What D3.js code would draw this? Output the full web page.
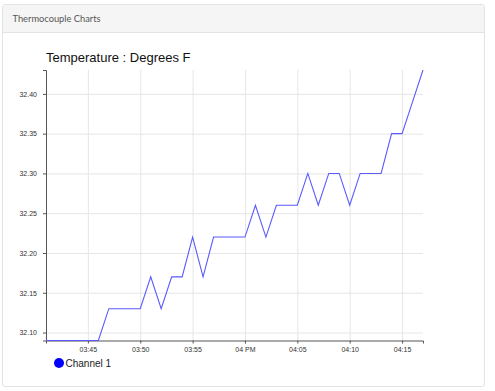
<!DOCTYPE html>
<html>
<head>
<meta charset="utf-8">
<script src="https://cdn.jsdelivr.net/npm/d3@7"></script>
<style>
  html, body { margin: 0; padding: 0; background: #fff; }
  body { width: 495px; height: 391px; overflow: hidden; position: relative; }
  .card { position: absolute; left: 2px; top: 4px; width: 481px; height: 381px;
          border: 1px solid #e3e3e3; border-radius: 3px; background: #fff; }
  .card-header { height: 27px; background: #f5f5f5; border-bottom: 1px solid #e3e3e3;
          font-family: Lato, "Open Sans", sans-serif; font-size: 9.3px; color: #555;
          line-height: 28px; padding-left: 9.5px; }
  svg { position: absolute; left: 0; top: 0; }
  .tick text { font-family: "Liberation Sans", Arial, sans-serif; font-size: 7px; fill: #333; }
  .grid line { stroke: #e6e6e6; }
  .grid path { display: none; }
</style>
</head>
<body>
<div class="card"><div class="card-header">Thermocouple Charts</div></div>
<svg id="chart" width="495" height="391"></svg>
<script>
const times = ["15:41","15:42","15:43","15:44","15:45","15:46","15:47","15:48","15:49","15:50",
               "15:51","15:52","15:53","15:54","15:55","15:56","15:57","15:58","15:59","16:00",
               "16:01","16:02","16:03","16:04","16:05","16:06","16:07","16:08","16:09","16:10",
               "16:11","16:12","16:13","16:14","16:15","16:16","16:17"];
const channel1 = [32.09,32.09,32.09,32.09,32.09,32.09,32.13,32.13,32.13,32.13,
                  32.17,32.13,32.17,32.17,32.22,32.17,32.22,32.22,32.22,32.22,
                  32.26,32.22,32.26,32.26,32.26,32.30,32.26,32.30,32.30,32.26,
                  32.30,32.30,32.30,32.35,32.35,32.39,32.43];
const yTicks = [32.10,32.15,32.20,32.25,32.30,32.35,32.40];
const title = "Temperature : Degrees F";
const seriesName = "Channel 1";

(function () {
const parse = s => { const [h, m] = s.split(":").map(Number); return new Date(2020, 0, 1, h, m); };
const data = times.map((t, i) => ({ t: parse(t), v: channel1[i] }));

const mLeft = 46, mRight = 423, mTop = 70, mBottom = 340.5;
const svg = d3.select("#chart");

const x = d3.scaleTime().domain(d3.extent(data, d => d.t)).range([mLeft, mRight]);
const y = d3.scaleLinear().domain(d3.extent(data, d => d.v)).range([mBottom, mTop]);

// grid
svg.append("g").attr("class", "grid")
  .attr("transform", `translate(0,${mBottom})`)
  .call(d3.axisBottom(x).ticks(d3.timeMinute.every(5)).tickSize(-(mBottom - mTop)).tickFormat(""));
svg.append("g").attr("class", "grid")
  .attr("transform", `translate(${mLeft},0)`)
  .call(d3.axisLeft(y).tickValues(yTicks).tickSize(-(mRight - mLeft)).tickFormat(""));

// axes
const xAxis = svg.append("g")
  .attr("transform", `translate(0,${mBottom})`)
  .call(d3.axisBottom(x).ticks(d3.timeMinute.every(5)).tickSize(3).tickPadding(4));
const yAxis = svg.append("g")
  .attr("transform", `translate(${mLeft},0)`)
  .call(d3.axisLeft(y).tickValues(yTicks)
        .tickFormat(d3.format(".2f")).tickSize(3).tickPadding(6));
[xAxis, yAxis].forEach(a => { a.selectAll("path, line").attr("stroke", "#555"); a.selectAll("text").attr("fill", "#333"); });

// line
svg.append("path").datum(data)
  .attr("fill", "none").attr("stroke", "#5a5aff").attr("stroke-width", 1.1)
  .attr("d", d3.line().x(d => x(d.t)).y(d => y(d.v)));

// title
svg.append("text").attr("x", 46).attr("y", 62)
  .attr("font-family", "Liberation Sans, Arial, sans-serif").attr("font-size", 13)
  .attr("fill", "#111").text(title);

// legend
svg.append("circle").attr("cx", 59).attr("cy", 363).attr("r", 5).attr("fill", "#0000ff");
svg.append("text").attr("x", 65.5).attr("y", 367)
  .attr("font-family", "Liberation Sans, Arial, sans-serif").attr("font-size", 10)
  .attr("fill", "#222").text(seriesName);
})();
</script>
</body>
</html>
